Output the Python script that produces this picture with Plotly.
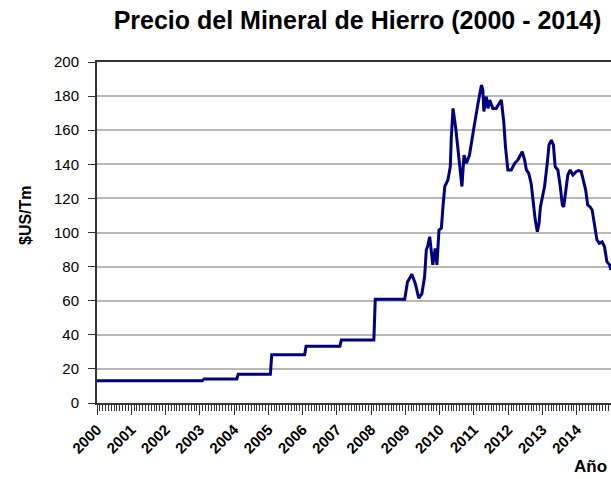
import plotly.graph_objects as go

# Decimal year positions and iron ore price ($US/Tm)
years = [2000.0, 2003.08, 2003.12, 2004.08, 2004.12, 2005.06, 2005.10, 2006.06, 2006.10,
         2007.09, 2007.13, 2008.08, 2008.12, 2008.98, 2009.06, 2009.19, 2009.29, 2009.39,
         2009.48, 2009.56, 2009.61, 2009.65, 2009.71, 2009.80, 2009.87, 2009.92, 2009.98,
         2010.05, 2010.10, 2010.15, 2010.24, 2010.31, 2010.34, 2010.39, 2010.47, 2010.55,
         2010.65, 2010.71, 2010.78, 2010.87, 2010.95, 2011.02, 2011.12, 2011.22, 2011.26,
         2011.29, 2011.36, 2011.41, 2011.46, 2011.55, 2011.65, 2011.80, 2011.87, 2011.92,
         2011.99, 2012.09, 2012.19, 2012.28, 2012.41, 2012.48, 2012.53, 2012.60, 2012.67,
         2012.72, 2012.79, 2012.85, 2012.90, 2012.94, 2013.01, 2013.06, 2013.14, 2013.19,
         2013.26, 2013.32, 2013.37, 2013.45, 2013.52, 2013.58, 2013.62, 2013.69, 2013.74,
         2013.81, 2013.89, 2013.99, 2014.05, 2014.13, 2014.18, 2014.26, 2014.32, 2014.39,
         2014.45, 2014.52, 2014.59, 2014.66, 2014.74, 2014.81, 2014.88, 2014.96, 2014.99]
prices = [13.0, 13.0, 14.1, 14.1, 16.8, 16.8, 28.3, 28.3, 33.3,
          33.3, 37.0, 37.0, 60.8, 60.8, 71.0, 75.5, 70.0, 61.5,
          64.0, 74.0, 89.7, 92.0, 97.5, 81.0, 90.7, 81.0, 101.5,
          102.5, 116.0, 127.0, 130.8, 138.6, 156.0, 172.8, 161.0, 145.4,
          127.0, 145.4, 140.6, 145.4, 154.2, 164.0, 175.8, 186.5, 183.6,
          171.0, 179.7, 172.8, 177.7, 172.8, 172.8, 177.7, 165.0, 150.3,
          136.7, 136.7, 140.6, 142.5, 147.4, 142.5, 136.7, 134.7, 128.8,
          119.0, 107.3, 100.5, 105.4, 115.0, 121.0, 126.9, 140.6, 151.3,
          154.2, 151.3, 138.6, 136.7, 126.9, 116.1, 115.0, 126.9, 133.7,
          136.7, 133.7, 135.8, 136.3, 135.8, 130.8, 125.0, 116.1, 115.0,
          113.2, 105.4, 95.6, 93.7, 94.5, 91.7, 82.9, 81.0, 78.0]

year_ticks = list(range(2000, 2015))
year_labels = [str(y) for y in year_ticks]
y_ticks = list(range(0, 201, 20))

L, R, T, B = 97, 0, 62, 76
W, H = 611, 479
pw, ph = W - L - R, H - T - B

def px_to_paper(x, y):
    return (x - L) / pw, (H - B - y) / ph

fig = go.Figure()
fig.add_trace(go.Scatter(x=years, y=prices, mode="lines",
                         line=dict(color="#000080", width=3), showlegend=False,
                         hoverinfo="skip"))

ya_x, ya_y = px_to_paper(25, 215)
an_x, an_y = px_to_paper(590, 466)

fig.update_layout(
    width=W, height=H,
    margin=dict(l=L, r=R, t=T, b=B, autoexpand=False),
    paper_bgcolor="white", plot_bgcolor="white",
    font=dict(family="Liberation Sans, Arial, sans-serif", color="black"),
    title=dict(text="<b>Precio del Mineral de Hierro (2000 - 2014)</b>",
               x=357.5 / W, xref="container", xanchor="center",
               y=1 - 20 / H, yref="container", yanchor="middle",
               font=dict(size=25, color="black")),
    xaxis=dict(range=[2000, 2015], tickvals=year_ticks, ticktext=[f"<b>{t}</b>" for t in year_labels],
               tickangle=-45, tickfont=dict(size=15, color="black"), automargin=False,
               showgrid=False, zeroline=False,
               showline=True, linecolor="#333333", linewidth=2, mirror=True,
               ticks="outside", ticklen=10, tickcolor="#333333", tickwidth=1,
               minor=dict(dtick=1/12, tick0=2000, ticks="outside", ticklen=6,
                          tickcolor="#333333", tickwidth=1, showgrid=False)),
    yaxis=dict(range=[0, 200], tickvals=y_ticks, tickfont=dict(size=15, color="black"),
               automargin=False,
               showgrid=True, gridcolor="#b8b8b8", gridwidth=2, zeroline=False,
               showline=True, linecolor="#333333", linewidth=2,
               ticks="outside", ticklen=7, tickcolor="#333333", ticklabelstandoff=6),
    annotations=[
        dict(text="<b>$US/Tm</b>", textangle=-90, x=ya_x, y=ya_y, xref="paper", yref="paper",
             xanchor="center", yanchor="middle", showarrow=False,
             font=dict(size=16, color="black")),
        dict(text="<b>Año</b>", x=an_x, y=an_y, xref="paper", yref="paper",
             xanchor="center", yanchor="middle", showarrow=False,
             font=dict(size=17, color="black")),
    ],
)

fig.write_html("out.html", config={"displayModeBar": False},
               post_script="document.body.style.margin='0';document.body.style.overflow='hidden';")
